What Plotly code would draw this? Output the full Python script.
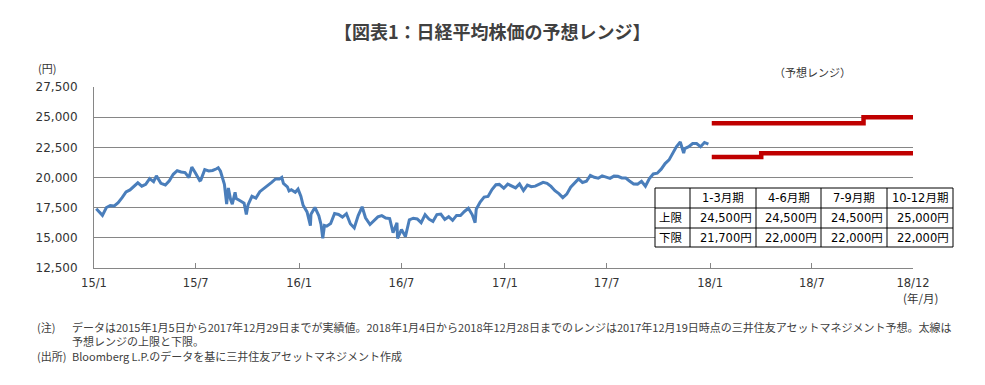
import plotly.graph_objects as go

# ---------------- data ----------------
dates = [
    "2015-01-05", "2015-01-09", "2015-01-16", "2015-01-23", "2015-01-30", "2015-02-06", "2015-02-13",
    "2015-02-20", "2015-02-27", "2015-03-06", "2015-03-13", "2015-03-20", "2015-03-27", "2015-04-03",
    "2015-04-10", "2015-04-17", "2015-04-22", "2015-04-30", "2015-05-08", "2015-05-15", "2015-05-22",
    "2015-05-29", "2015-06-05", "2015-06-12", "2015-06-19", "2015-06-24", "2015-07-01", "2015-07-08",
    "2015-07-10", "2015-07-17", "2015-07-24", "2015-07-31", "2015-08-07", "2015-08-10", "2015-08-14",
    "2015-08-21", "2015-08-25", "2015-08-28", "2015-09-01", "2015-09-04", "2015-09-09", "2015-09-11",
    "2015-09-18", "2015-09-25", "2015-09-29", "2015-10-02", "2015-10-09", "2015-10-16", "2015-10-23",
    "2015-10-30", "2015-11-06", "2015-11-13", "2015-11-20", "2015-11-27", "2015-12-01", "2015-12-04",
    "2015-12-11", "2015-12-14", "2015-12-18", "2015-12-25", "2015-12-30",
    "2016-01-04", "2016-01-08", "2016-01-15", "2016-01-21", "2016-01-22", "2016-01-29", "2016-02-05",
    "2016-02-09", "2016-02-12", "2016-02-15", "2016-02-19", "2016-02-26", "2016-03-04", "2016-03-11",
    "2016-03-18", "2016-03-25", "2016-04-01", "2016-04-08", "2016-04-15", "2016-04-22", "2016-04-28",
    "2016-05-06", "2016-05-13", "2016-05-20", "2016-05-27", "2016-06-03", "2016-06-10", "2016-06-16",
    "2016-06-23", "2016-06-24", "2016-07-01", "2016-07-08", "2016-07-15", "2016-07-22", "2016-07-29",
    "2016-08-05", "2016-08-12", "2016-08-19", "2016-08-26", "2016-09-02", "2016-09-09", "2016-09-16",
    "2016-09-23", "2016-09-30", "2016-10-07", "2016-10-14", "2016-10-21", "2016-10-28", "2016-11-04",
    "2016-11-09", "2016-11-11", "2016-11-18", "2016-11-25", "2016-12-02", "2016-12-09", "2016-12-16",
    "2016-12-22", "2016-12-30",
    "2017-01-06", "2017-01-13", "2017-01-20", "2017-01-27", "2017-02-03", "2017-02-10", "2017-02-17",
    "2017-02-24", "2017-03-03", "2017-03-10", "2017-03-17", "2017-03-24", "2017-03-31", "2017-04-07",
    "2017-04-14", "2017-04-21", "2017-04-28", "2017-05-12", "2017-05-19", "2017-05-26", "2017-06-02",
    "2017-06-09", "2017-06-16", "2017-06-23", "2017-06-30", "2017-07-07", "2017-07-14", "2017-07-21",
    "2017-07-28", "2017-08-04", "2017-08-10", "2017-08-18", "2017-08-25", "2017-09-01", "2017-09-08",
    "2017-09-15", "2017-09-22", "2017-09-29", "2017-10-06", "2017-10-13", "2017-10-20", "2017-10-27",
    "2017-11-02", "2017-11-09", "2017-11-15", "2017-11-17", "2017-11-24", "2017-12-01", "2017-12-08",
    "2017-12-15", "2017-12-22", "2017-12-29",
]
close = [
    17408, 17198, 16864, 17511, 17674, 17648, 17913,
    18332, 18798, 18971, 19254, 19560, 19286, 19435,
    19908, 19653, 20133, 19520, 19379, 19733, 20264,
    20563, 20460, 20407, 19990, 20868, 20329, 19737,
    19780, 20650, 20544, 20585, 20724, 20808, 20519,
    19435, 17806, 19136, 18165, 17792, 18770, 18264,
    18070, 17880, 16931, 17725, 18438, 18291, 18825,
    19083, 19265, 19597, 19879, 19883, 20012, 19504,
    19230, 18883, 18986, 18770, 19034,
    18451, 17698, 17147, 16017, 16958, 17518, 16820,
    16085, 14953, 16022, 15967, 16188, 17015, 16939,
    16725, 17002, 16164, 15821, 16848, 17572, 16666,
    16106, 16412, 16736, 16835, 16642, 16601, 15434,
    16238, 14952, 15682, 15107, 16497, 16627, 16569,
    16254, 16920, 16545, 16360, 16925, 16965, 16519,
    16754, 16449, 16860, 16856, 17184, 17446, 16905,
    16251, 17374, 17968, 18381, 18426, 18996, 19401,
    19427, 19114,
    19454, 19287, 19137, 19467, 18918, 19378, 19234,
    19283, 19469, 19604, 19521, 19262, 18909, 18664,
    18335, 18620, 19196, 19883, 19590, 19686, 20177,
    20013, 19943, 20132, 20033, 19929, 20118, 20099,
    19959, 19952, 19729, 19470, 19452, 19691, 19274,
    19909, 20296, 20356, 20690, 21155, 21457, 22008,
    22539, 22937, 22028, 22397, 22550, 22819, 22811,
    22553, 22903, 22764,
]

quarter_starts = ["2018-01-04", "2018-04-02", "2018-07-02", "2018-10-01", "2018-12-28"]
quarters = ["1-3月期", "4-6月期", "7-9月期", "10-12月期"]
row_labels = ["上限", "下限"]
upper = [24500, 24500, 24500, 25000]
lower = [21700, 22000, 22000, 22000]

y_ticks = [12500, 15000, 17500, 20000, 22500, 25000, 27500]
x_tickvals = ["2015-01-01", "2015-07-01", "2016-01-01", "2016-07-01", "2017-01-01",
              "2017-07-01", "2018-01-01", "2018-07-01", "2018-12-28"]
x_ticktext = ["15/1", "15/7", "16/1", "16/7", "17/1", "17/7", "18/1", "18/7", "18/12"]

title_text = "【図表1：日経平均株価の予想レンジ】"
note1 = "データは2015年1月5日から2017年12月29日までが実績値。2018年1月4日から2018年12月28日までのレンジは2017年12月19日時点の三井住友アセットマネジメント予想。太線は"
note2 = "予想レンジの上限と下限。"
source = "Bloomberg L.P.のデータを基に三井住友アセットマネジメント作成"

# ---------------- layout helpers (screen pixel -> paper) ----------------
OFF = 8                      # page body margin
W, H = 985 - OFF, 385 - OFF
L, R, T, B = 94, 913, 87, 268  # plot area in screen pixels


def px(x):
    return (x - L) / (R - L)


def py(y):
    return (B - y) / (B - T)


FONT = "DejaVu Sans, Noto Sans CJK JP, sans-serif"
JFONT = "Noto Sans CJK JP, sans-serif"
TXT = "#333333"
GRID = "#868686"

fig = go.Figure()
fig.add_trace(go.Scatter(x=dates, y=close, mode="lines",
                         line=dict(color="#4A7EBB", width=3), hoverinfo="x+y"))
fig.add_trace(go.Scatter(x=quarter_starts, y=upper + [upper[-1]], mode="lines",
                         line=dict(color="#C00000", width=4.5, shape="hv")))
fig.add_trace(go.Scatter(x=quarter_starts, y=lower + [lower[-1]], mode="lines",
                         line=dict(color="#C00000", width=4.5, shape="hv")))

annotations = []
shapes = []

# title and axis captions
annotations.append(dict(text="<b>" + title_text + "</b>", x=px(492), y=py(31), xref="paper", yref="paper",
                        showarrow=False, font=dict(family=JFONT, size=18, color="#404040"),
                        xanchor="center", yanchor="middle"))
annotations.append(dict(text="(円)", x=px(36), y=py(68), xref="paper", yref="paper", showarrow=False,
                        font=dict(family=JFONT, size=11, color=TXT), xanchor="left", yanchor="middle"))
annotations.append(dict(text="（予想レンジ）", x=px(812), y=py(72), xref="paper", yref="paper", showarrow=False,
                        font=dict(family=JFONT, size=11, color=TXT), xanchor="center", yanchor="middle"))
annotations.append(dict(text="(年/月)", x=px(920), y=py(298), xref="paper", yref="paper", showarrow=False,
                        font=dict(family=JFONT, size=11.5, color=TXT), xanchor="center", yanchor="middle"))

# notes (one block per column so the lines don't collide)
nfont = dict(family=JFONT, size=11, color="#404040")
annotations.append(dict(text="(注)<br> <br>(出所)", x=px(35), y=py(341), xref="paper", yref="paper",
                        showarrow=False, font=nfont, xanchor="left", yanchor="middle", align="left"))
annotations.append(dict(text=note1 + "<br>" + note2 + "<br>" + source, x=px(70), y=py(341),
                        xref="paper", yref="paper", showarrow=False, font=nfont,
                        xanchor="left", yanchor="middle", align="left"))

# table
col_x = [655, 690, 756, 821, 887, 953]
row_y = [188, 208, 228, 247]
shapes.append(dict(type="rect", xref="paper", yref="paper", x0=px(col_x[0]), x1=px(col_x[-1]),
                   y0=py(row_y[0]), y1=py(row_y[-1]), fillcolor="white",
                   line=dict(color="black", width=1), layer="above"))
for cx in col_x[1:-1]:
    shapes.append(dict(type="line", xref="paper", yref="paper", x0=px(cx), x1=px(cx),
                       y0=py(row_y[0]), y1=py(row_y[-1]), line=dict(color="black", width=1), layer="above"))
for ry in row_y[1:-1]:
    shapes.append(dict(type="line", xref="paper", yref="paper", x0=px(col_x[0]), x1=px(col_x[-1]),
                       y0=py(ry), y1=py(ry), line=dict(color="black", width=1), layer="above"))

tfont = dict(family=FONT, size=11.5, color="black")
for i, q in enumerate(quarters):
    annotations.append(dict(text=q, x=px((col_x[i + 1] + col_x[i + 2]) / 2), y=py((row_y[0] + row_y[1]) / 2),
                            xref="paper", yref="paper", showarrow=False, font=tfont,
                            xanchor="center", yanchor="middle"))
for r, (lab, vals) in enumerate(zip(row_labels, [upper, lower])):
    yc = py((row_y[r + 1] + row_y[r + 2]) / 2)
    annotations.append(dict(text=lab, x=px(col_x[0] + 2), y=yc, xref="paper", yref="paper",
                            showarrow=False, font=tfont, xanchor="left", yanchor="middle"))
    for i, v in enumerate(vals):
        annotations.append(dict(text=f"{v:,}円", x=px(col_x[i + 2] - 2), y=yc, xref="paper", yref="paper",
                                showarrow=False, font=tfont, xanchor="right", yanchor="middle"))

fig.update_layout(
    width=W, height=H, autosize=False,
    margin=dict(l=L - OFF, r=W - (R - OFF), t=T - OFF, b=H - (B - OFF), pad=0),
    paper_bgcolor="white", plot_bgcolor="white",
    showlegend=False,
    xaxis=dict(type="date", range=["2015-01-01", "2018-12-28"], tickvals=x_tickvals, ticktext=x_ticktext,
               showgrid=False, showline=True, linecolor=GRID, linewidth=1,
               ticks="inside", ticklen=5, tickcolor=GRID, tickwidth=1,
               tickfont=dict(family=FONT, size=11.5, color=TXT), ticklabelstandoff=4, zeroline=False),
    yaxis=dict(range=[12500, 27500], tickvals=y_ticks, tickformat=",", showgrid=True, gridcolor=GRID,
               gridwidth=1, showline=True, linecolor=GRID, linewidth=1, ticks="", zeroline=False,
               tickfont=dict(family=FONT, size=12, color=TXT), ticklabelstandoff=13),
    annotations=annotations,
    shapes=shapes,
)

fig.write_html("out.html")
